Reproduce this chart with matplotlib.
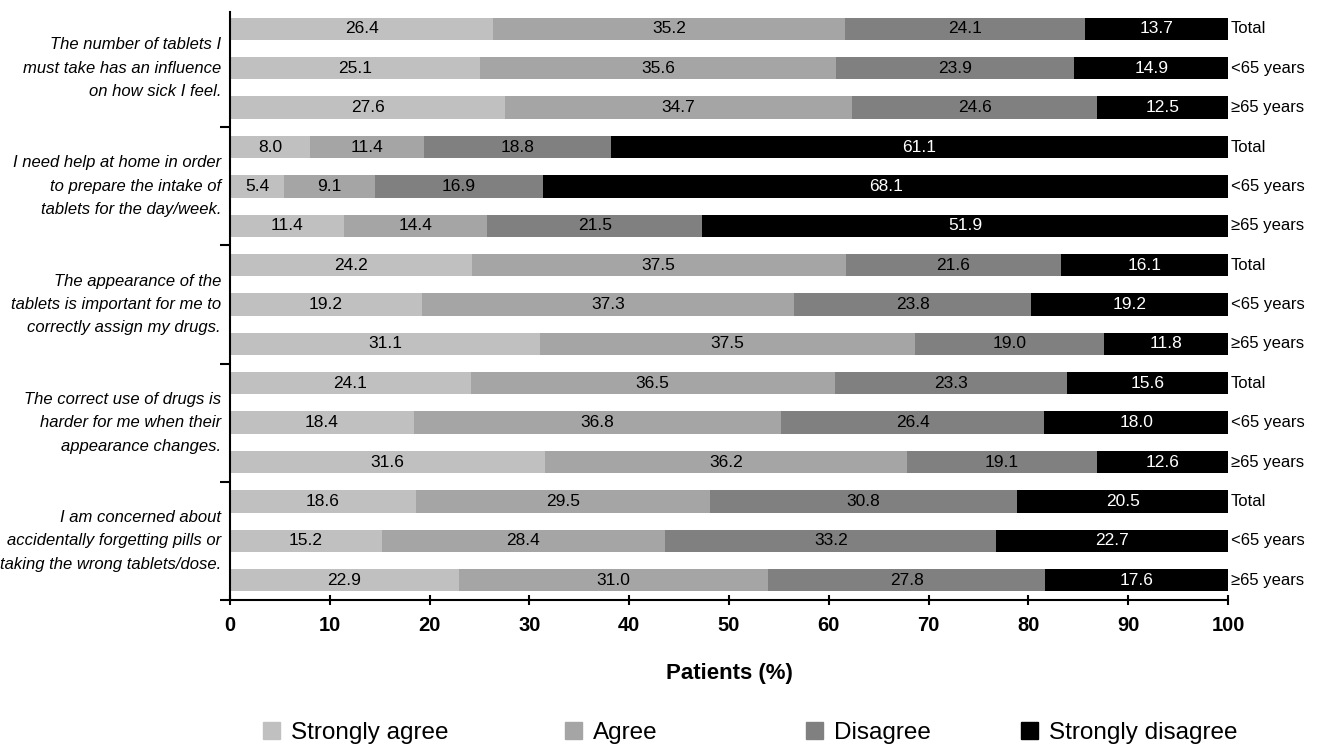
import numpy as np
import matplotlib.pyplot as plt

plt.rcParams['font.family'] = ['Liberation Sans', 'DejaVu Sans']

statements = [
    "The number of tablets I\nmust take has an influence\non how sick I feel.",
    "I need help at home in order\nto prepare the intake of\ntablets for the day/week.",
    "The appearance of the\ntablets is important for me to\ncorrectly assign my drugs.",
    "The correct use of drugs is\nharder for me when their\nappearance changes.",
    "I am concerned about\naccidentally forgetting pills or\ntaking the wrong tablets/dose.",
]
subgroups = ["Total", "<65 years", "\u226565 years"]
categories = ["Strongly agree", "Agree", "Disagree", "Strongly disagree"]
colors = ["#c0c0c0", "#a5a5a5", "#808080", "#000000"]

strongly_agree = [26.4, 25.1, 27.6, 8.0, 5.4, 11.4, 24.2, 19.2, 31.1, 24.1, 18.4, 31.6, 18.6, 15.2, 22.9]
agree = [35.2, 35.6, 34.7, 11.4, 9.1, 14.4, 37.5, 37.3, 37.5, 36.5, 36.8, 36.2, 29.5, 28.4, 31.0]
disagree = [24.1, 23.9, 24.6, 18.8, 16.9, 21.5, 21.6, 23.8, 19.0, 23.3, 26.4, 19.1, 30.8, 33.2, 27.8]
strongly_disagree = [13.7, 14.9, 12.5, 61.1, 68.1, 51.9, 16.1, 19.2, 11.8, 15.6, 18.0, 12.6, 20.5, 22.7, 17.6]

series = [strongly_agree, agree, disagree, strongly_disagree]
n = len(strongly_agree)
y = np.arange(n)

fig = plt.figure(figsize=(13.21, 7.47), dpi=100)
ax = fig.add_axes([0.1741, 0.197, 0.7555, 0.787])

left = np.zeros(n)
for k, vals in enumerate(series):
    vals = np.array(vals)
    # last segment is drawn out to 100 as in the original figure
    widths = 100 - left if k == len(series) - 1 else vals
    ax.barh(y, widths, left=left, height=0.57, color=colors[k], label=categories[k])
    txtcol = "white" if k == len(series) - 1 else "black"
    for yi, l, w, v in zip(y, left, widths, vals):
        ax.text(l + w / 2, yi, f"{v:.1f}", ha="center", va="center",
                fontsize=12.5, color=txtcol)
    left = left + widths

for i in range(n):
    ax.text(100.3, i, subgroups[i % 3], ha="left", va="center", fontsize=12)

for g, s in enumerate(statements):
    ax.text(-0.9, g * 3 + 1, s, ha="right", va="center", fontsize=12,
            style="italic", linespacing=1.7)

ax.set_xlim(0, 100)
ax.set_ylim(14.49, -0.43)
ax.set_xticks(np.arange(0, 101, 10))
ax.tick_params(axis="x", direction="inout", length=7, width=1.5, labelsize=14.5, pad=8)
for lab in ax.get_xticklabels():
    lab.set_fontweight("bold")
ax.set_yticks([2.5, 5.5, 8.5, 11.5, 14.5])
ax.set_yticklabels([])
ax.tick_params(axis="y", direction="out", length=7, width=1.5)

for side in ["top", "right"]:
    ax.spines[side].set_visible(False)
for side in ["left", "bottom"]:
    ax.spines[side].set_linewidth(1.5)

ax.set_xlabel("Patients (%)", fontsize=16, fontweight="bold", labelpad=20)

# legend entries sit at irregular positions in the original
legend_x = [263, 565, 806, 1021]
for c, name, xp in zip(colors, categories, legend_x):
    leg = fig.legend([plt.Rectangle((0, 0), 1, 1, color=c)], [name],
                     loc="center left", bbox_to_anchor=(xp / 1321, 0.0187),
                     frameon=False, fontsize=17.5, handlelength=0.7,
                     handleheight=0.7, handletextpad=0.45,
                     borderpad=0, borderaxespad=0)

fig.savefig("out.png", dpi=100)
